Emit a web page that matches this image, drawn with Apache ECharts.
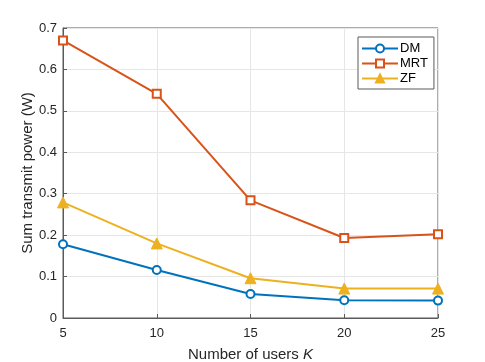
<!DOCTYPE html>
<html>
<head>
<meta charset="utf-8">
<script src="https://cdn.jsdelivr.net/npm/echarts@6/dist/echarts.min.js"></script>
<style>
html,body{margin:0;padding:0;background:#fff;}
#box{width:485px;height:362px;}
</style>
</head>
<body>
<div id="box"></div>
<script>
var users = [5, 10, 15, 20, 25];
var dm = [0.178, 0.116, 0.058, 0.043, 0.042];
var mrt = [0.670, 0.541, 0.284, 0.193, 0.202];
var zf = [0.279, 0.180, 0.096, 0.071, 0.071];

function pairs(xs, ys){
	var out = [];
	for(var i = 0; i < xs.length; i++){
		out.push([xs[i], ys[i]]);
	}
	return out;
}

var font = 'Liberation Sans, Arial, sans-serif';
var axisColor = '#5a5a5a';
var mychar = echarts.init(document.getElementById('box'));
var option = {
	animation: false,
	textStyle: {fontFamily: font},
	grid: {
		left: 63, right: 47, top: 28, bottom: 44,
		outerBoundsMode: 'none',
		containLabel: false,
		show: true, borderColor: axisColor, borderWidth: 1
	},
	legend: {
		orient: 'vertical',
		left: 358, top: 37,
		padding: [5, 6, 4, 3],
		itemGap: 2,
		itemWidth: 36,
		itemHeight: 10,
		borderColor: axisColor,
		borderWidth: 1,
		backgroundColor: '#fff',
		textStyle: {fontSize: 13, color: '#000', fontFamily: font, padding: [0, 0, 0, -3]},
		data: ['DM', 'MRT', 'ZF']
	},
	xAxis: {
		type: 'value',
		min: 5, max: 25, interval: 5,
		name: 'Number of users {i|K}',
		nameLocation: 'middle',
		nameGap: 29,
		nameMoveOverlap: false,
		nameTextStyle: {
			fontSize: 15, color: '#262626',
			rich: {i: {fontStyle: 'italic', fontSize: 15, color: '#262626'}}
		},
		axisLine: {lineStyle: {color: axisColor}},
		axisTick: {inside: true, length: 4, lineStyle: {color: axisColor}},
		axisLabel: {fontSize: 13, color: '#262626', margin: 9},
		splitLine: {show: true, lineStyle: {color: '#e6e6e6'}}
	},
	yAxis: {
		type: 'value',
		min: 0, max: 0.7, interval: 0.1,
		name: 'Sum transmit power (W)',
		nameLocation: 'middle',
		nameGap: 28,
		nameMoveOverlap: false,
		nameTextStyle: {fontSize: 15, color: '#262626'},
		axisLine: {show: true, lineStyle: {color: axisColor}},
		axisTick: {show: true, inside: true, length: 4, lineStyle: {color: axisColor}},
		axisLabel: {fontSize: 13, color: '#262626', margin: 6},
		splitLine: {show: true, lineStyle: {color: '#e6e6e6'}}
	},
	series: [
		{
			name: 'DM', type: 'line',
			data: pairs(users, dm),
			symbol: 'circle', symbolSize: 8,
			lineStyle: {width: 2, color: '#0072BD'},
			itemStyle: {color: '#ffffff', borderColor: '#0072BD', borderWidth: 2}
		},
		{
			name: 'MRT', type: 'line',
			data: pairs(users, mrt),
			symbol: 'rect', symbolSize: 8,
			lineStyle: {width: 2, color: '#D95319'},
			itemStyle: {color: '#ffffff', borderColor: '#D95319', borderWidth: 2}
		},
		{
			name: 'ZF', type: 'line',
			data: pairs(users, zf),
			symbol: 'triangle', symbolSize: 11,
			lineStyle: {width: 2, color: '#EDB120'},
			itemStyle: {color: '#EDB120', borderColor: '#EDB120', borderWidth: 1}
		}
	]
};
mychar.setOption(option);
</script>
</body>
</html>
